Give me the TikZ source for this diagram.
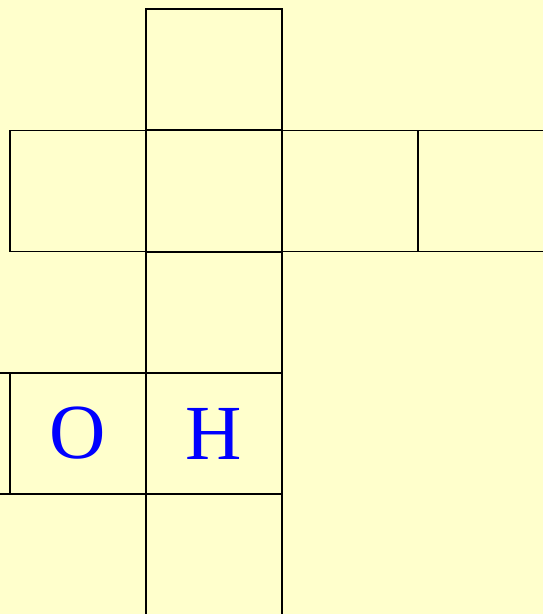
\documentclass[tikz,border=0pt]{standalone}
\usepackage{fontspec}
\setmainfont{Liberation Serif}
\definecolor{bgyellow}{HTML}{FFFFCC}
\definecolor{letterblue}{HTML}{0000FF}
\begin{document}
\begin{tikzpicture}[x=1pt,y=-1pt,
  cell/.style={draw=black,line width=1.8pt,rectangle,minimum width=136pt,minimum height=121pt,inner sep=0pt,outer sep=0pt,anchor=north west,
    font=\fontsize{78}{78}\selectfont,text=letterblue}]
\fill[bgyellow] (0,0) rectangle (543,614);
\useasboundingbox (0,0) rectangle (543,614);
\clip (0,0) rectangle (543,614);
\node[cell] (top) at (146,9) {};
\node[cell] (ra) at (10,130.5) {};
\node[cell] (rb) at (146,130.5) {};
\node[cell] (rc) at (282,130.5) {};
\node[cell] (rd) at (418,130.5) {};
\node[cell] (mid) at (146,252) {};
\node[cell] (lz) at (-126,373) {};
\node[cell] (lo) at (10,373) {O};
\node[cell] (lh) at (146,373) {H};
\node[cell] (bot) at (146,494) {};
\end{tikzpicture}
\end{document}
